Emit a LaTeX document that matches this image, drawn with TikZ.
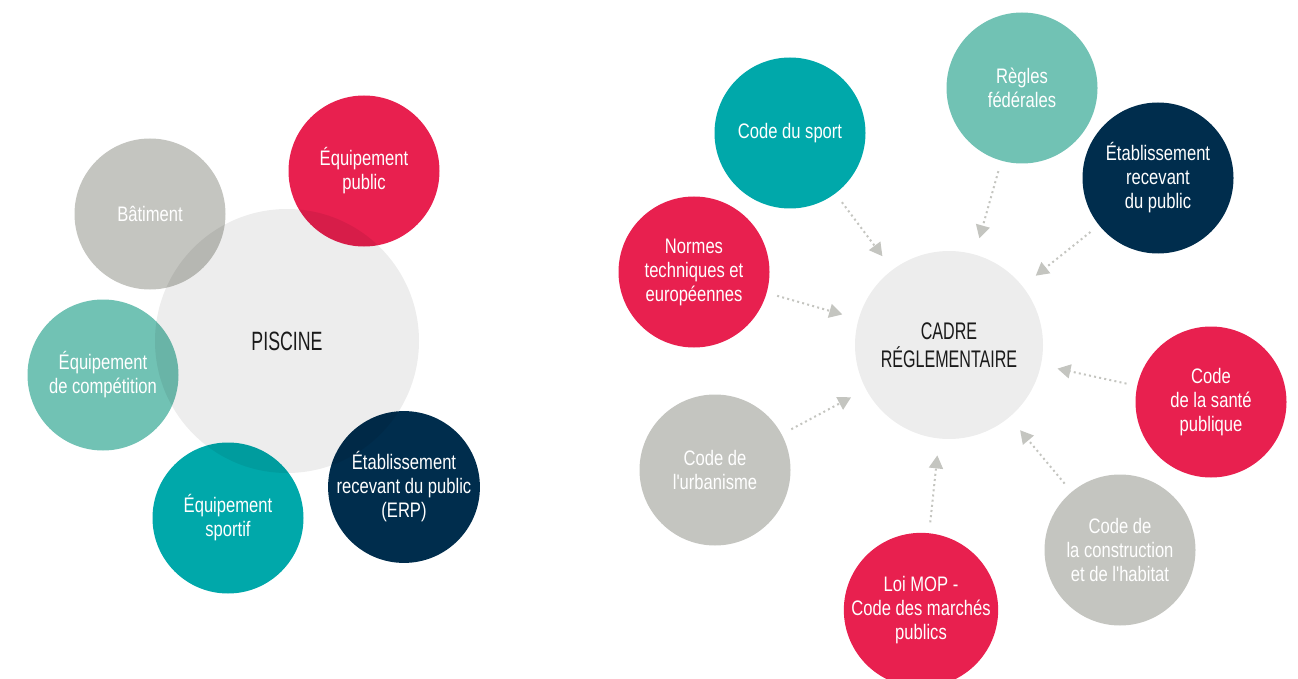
\documentclass[tikz,border=0pt]{standalone}
\usepackage{fontspec}
\setmainfont{Liberation Sans}
\newfontfamily\satfam{Liberation Sans}[FakeStretch=0.79]
\newfontfamily\darkfam{Liberation Sans}[FakeStretch=0.67]
\usetikzlibrary{arrows.meta}
\definecolor{cred}{HTML}{E8204F}
\definecolor{cteal}{HTML}{00A8AA}
\definecolor{cltteal}{HTML}{71C2B4}
\definecolor{cnavy}{HTML}{002D4D}
\definecolor{cgrey}{HTML}{C4C5C0}
\definecolor{clight}{HTML}{EDEDED}
\definecolor{cdark}{HTML}{1A1A1A}
\newcommand{\apos}{\char39\relax}
\tikzset{
  sat/.style={circle, minimum size=151pt, inner sep=0pt, outer sep=0pt, text=white,
    align=center, font=\satfam\fontsize{21}{24}\selectfont},
  hub/.style={circle, inner sep=0pt, outer sep=0pt, text=cdark, align=center},
  arr/.style={draw=cgrey, line width=2pt, dash pattern=on 2pt off 3.2pt,
    -{Triangle[length=13pt,width=14pt]}, shorten <=11pt, shorten >=17pt}
}
\begin{document}
\begin{tikzpicture}[x=1pt,y=-1pt]
\useasboundingbox (0,0) rectangle (1298,679);
% left cluster
\node[sat, fill=cgrey] (bat) at (150,214) {Bâtiment};
\node[sat, fill=cred] (pub) at (364,171) {Équipement\\public};
\node[sat, fill=cltteal] (comp) at (103,375) {Équipement\\de compétition};
\node[sat, fill=cteal] (sport) at (228,518) {Équipement\\sportif};
\node[sat, fill=cnavy] (erp) at (404,487) {Établissement\\recevant du public\\(ERP)};
\node[hub, minimum size=264pt, fill=black, fill opacity=0.07, text opacity=1,
  font=\darkfam\fontsize{26.5}{30}\selectfont] (pisc) at (287,341) {PISCINE};
% right cluster
\node[hub, minimum size=188pt, fill=clight,
  font=\darkfam\fontsize{24}{28}\selectfont] (cadre) at (949,345) {CADRE\\RÉGLEMENTAIRE};
\node[sat, fill=cteal] (csport) at (790,133) {Code du sport};
\node[sat, fill=cltteal] (regles) at (1022,88) {Règles\\fédérales};
\node[sat, fill=cnavy] (erp2) at (1158,178) {Établissement\\recevant\\du public};
\node[sat, fill=cred] (normes) at (694,272) {Normes\\techniques et\\européennes};
\node[sat, fill=cred] (sante) at (1211,402) {Code\\de la santé\\publique};
\node[sat, fill=cgrey] (urba) at (715,470) {Code de\\l\apos urbanisme};
\node[sat, fill=cred] (mop) at (921,610) {Loi MOP -\\Code des marchés\\publics};
\node[sat, fill=cgrey] (constr) at (1120,550) {Code de\\la construction\\et de l\apos habitat};
% arrows
\draw[arr] (csport) -- (cadre);
\draw[arr] (regles) -- (cadre);
\draw[arr] (erp2) -- (cadre);
\draw[arr] (normes) -- (cadre);
\draw[arr] (sante) -- (cadre);
\draw[arr] (urba) -- (cadre);
\draw[arr] (mop) -- (cadre);
\draw[arr] (constr) -- (cadre);
\end{tikzpicture}
\end{document}
